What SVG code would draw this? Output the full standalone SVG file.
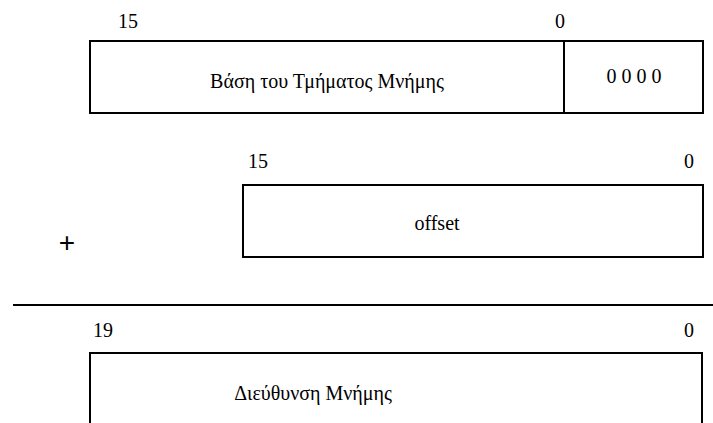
<svg xmlns="http://www.w3.org/2000/svg" width="713" height="423" viewBox="0 0 713 423">
  <style>
    .box { fill: #ffffff; stroke: #000000; stroke-width: 2; }
    .rule { stroke: #000000; stroke-width: 2; fill: none; }
    .lbl { font-family: "Liberation Serif", "Times New Roman", "DejaVu Serif", serif; font-size: 20px; fill: #000000; }
    .mid { text-anchor: middle; }
    .op { font-family: "Liberation Sans", Arial, sans-serif; font-size: 28px; fill: #000000; text-anchor: middle; }
  </style>
  <rect width="713" height="423" fill="#ffffff"/>

  <!-- segment base register, shifted left by 4 bits -->
  <g id="segment-base">
    <text class="lbl" x="118" y="28">15</text>
    <text class="lbl" x="555" y="28">0</text>
    <rect class="box" x="90" y="41" width="613" height="72"/>
    <line class="rule" x1="564" y1="41" x2="564" y2="113"/>
    <text class="lbl mid" x="327" y="88">Βάση του Τμήματος Μνήμης</text>
    <text class="lbl mid" x="634" y="83">0 0 0 0</text>
  </g>

  <!-- 16-bit offset -->
  <g id="offset">
    <text class="lbl" x="248" y="168">15</text>
    <text class="lbl" x="684" y="168">0</text>
    <rect class="box" x="243" y="185" width="460" height="72"/>
    <text class="lbl mid" x="437" y="230">offset</text>
  </g>

  <g id="plus">
    <text class="op" x="67" y="252">+</text>
  </g>

  <g id="connectors">
    <line class="rule" x1="13" y1="305" x2="713" y2="305"/>
  </g>

  <!-- resulting 20-bit physical address -->
  <g id="address">
    <text class="lbl" x="93" y="337">19</text>
    <text class="lbl" x="684" y="337">0</text>
    <path class="rule" d="M90,430 V353 H702 V430"/>
    <text class="lbl mid" x="313" y="400">Διεύθυνση Μνήμης</text>
  </g>
</svg>
